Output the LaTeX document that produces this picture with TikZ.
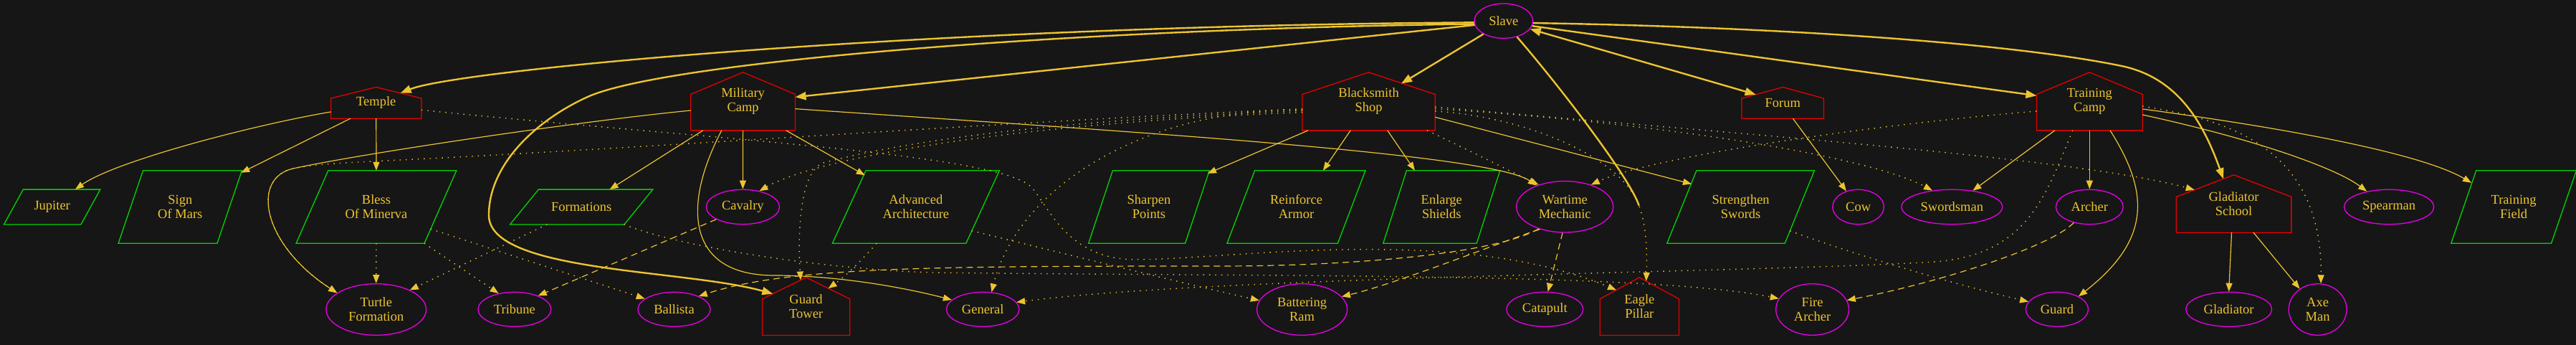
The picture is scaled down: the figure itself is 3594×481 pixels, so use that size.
\documentclass[tikz,border=0pt]{standalone}
\usepackage{fontspec}
\setmainfont{Liberation Serif}
\usetikzlibrary{shapes.geometric}
\usetikzlibrary{arrows.meta,calc}

\definecolor{bgdark}{RGB}{22,22,22}
\definecolor{goldtext}{RGB}{236,196,48}
\definecolor{bldred}{RGB}{228,0,0}
\definecolor{techgreen}{RGB}{0,214,0}
\definecolor{unitpink}{RGB}{232,0,232}

\begin{document}
\begin{tikzpicture}[x=1pt, y=-1pt, font=\fontsize{18.5}{20}\selectfont,
    unit/.style={ellipse, draw=unitpink, line width=1.3pt, text=goldtext, align=center, inner sep=0pt},
    building/.style={rectangle, inner sep=0pt, text=goldtext, align=center},
    tech/.style={rectangle, inner sep=0pt, text=goldtext, align=center},
    bldline/.style={draw=bldred, line width=1.3pt},
    techline/.style={draw=techgreen, line width=1.3pt},
    slaveline/.style={draw=goldtext, line width=2.4pt},
    slavepath/.style={slaveline, >={Triangle[length=15pt, width=11pt]}, ->},
    builds/.style={draw=goldtext, line width=1.2pt, >={Triangle[length=12pt, width=9pt]}, ->},
    needs/.style={builds, line width=1.4pt, dash pattern=on 1.4pt off 7pt},
    upgrades/.style={builds, dash pattern=on 9pt off 6pt}]

        \useasboundingbox (0,0) rectangle (3594,481);
        \fill[bgdark] (0,0) rectangle (3594,481);

        % Slave
        \node (slave) at (2097.8,29.2) [unit, minimum width=81.6pt, minimum height=48.4pt] {Slave};

        % Buildings
        \node (temple) at (524.8,143.35) [building, minimum width=125.9pt, minimum height=43.3pt] {Temple};
        \node (milcamp) at (1036.6,141.35) [building, minimum width=145.4pt, minimum height=80.7pt] {Military\\Camp};
        \node (smithy) at (1909.6,141.35) [building, minimum width=184.8pt, minimum height=80.7pt] {Blacksmith\\Shop};
        \node (forum) at (2487.3,143.35) [building, minimum width=114.1pt, minimum height=43.3pt] {Forum};
        \node (trcamp) at (2915.3,141.35) [building, minimum width=147.3pt, minimum height=80.7pt] {Training\\Camp};
        \node (glschool) at (3116.5,284) [building, minimum width=160.3pt, minimum height=80pt] {Gladiator\\School};
        \node (gtower) at (1124.6,427.15) [building, minimum width=121.7pt, minimum height=80.3pt] {Guard\\Tower};
        \node (eagle) at (2287.3,427.15) [building, minimum width=109.8pt, minimum height=80.3pt] {Eagle\\Pillar};

        \foreach \bn/\roof in {temple/15.6, milcamp/30.7, smithy/30.7, forum/15.6, trcamp/30.7, glschool/30.7, gtower/30, eagle/30}
            \draw[bldline] (\bn.south west) -- (\bn.south east) -- ([yshift=-\roof pt]\bn.north east) -- (\bn.north) -- ([yshift=-\roof pt]\bn.north west) -- cycle;

        % Techs
        \node (jupiter) at (72.7,288.5) [tech, minimum width=107.1pt, minimum height=48.4pt] {Jupiter};
        \node (mars) at (251.3,288.5) [tech, minimum width=137.5pt, minimum height=101pt] {Sign\\Of Mars};
        \node (minerva) at (525,288.5) [tech, minimum width=178.5pt, minimum height=101pt] {Bless\\Of Minerva};
        \node (formations) at (811.2,288.5) [tech, minimum width=159pt, minimum height=48.4pt] {Formations};
        \node (advarch) at (1277.9,288.5) [tech, minimum width=186pt, minimum height=101pt] {Advanced\\Architecture};
        \node (sharpen) at (1603,288.5) [tech, minimum width=134.5pt, minimum height=101pt] {Sharpen\\Points};
        \node (reinforce) at (1808.5,288.5) [tech, minimum width=154pt, minimum height=101pt] {Reinforce\\Armor};
        \node (enlarge) at (2011.3,288.5) [tech, minimum width=130pt, minimum height=101pt] {Enlarge\\Shields};
        \node (strengthen) at (2428.6,288.5) [tech, minimum width=164.1pt, minimum height=101pt] {Strengthen\\Swords};
        \node (trfield) at (3507.1,288.5) [tech, minimum width=139.4pt, minimum height=101pt] {Training\\Field};

        \foreach \tn in {jupiter, mars, minerva, formations, advarch, sharpen, reinforce, enlarge, strengthen, trfield}
            \draw[techline] let \p1=(\tn.south west), \p2=(\tn.north east), \n1={(\x2-\x1)/8} in
                (\x1-\n1,\y1) -- (\x2-\n1,\y1) -- (\x2+\n1,\y2) -- (\x1+\n1,\y2) -- cycle;

        % Units
        \node (cavalry) at (1036.4,288.5) [unit, minimum width=102.2pt, minimum height=48.4pt] {Cavalry};
        \node (wartime) at (2183.2,288.3) [unit, minimum width=135pt, minimum height=71.4pt] {Wartime\\Mechanic};
        \node (cow) at (2592.6,288.5) [unit, minimum width=71.6pt, minimum height=48.4pt] {Cow};
        \node (swordsman) at (2723.3,288.5) [unit, minimum width=140.8pt, minimum height=48.4pt] {Swordsman};
        \node (archer) at (2915.3,288.5) [unit, minimum width=93.8pt, minimum height=48.4pt] {Archer};
        \node (spearman) at (3333.1,288.5) [unit, minimum width=125.2pt, minimum height=48.4pt] {Spearman};
        \node (turtle) at (524.8,431.5) [unit, minimum width=139.6pt, minimum height=71.6pt] {Turtle\\Formation};
        \node (tribune) at (717.9,431.3) [unit, minimum width=101.8pt, minimum height=48pt] {Tribune};
        \node (ballista) at (940.5,431.3) [unit, minimum width=101pt, minimum height=48pt] {Ballista};
        \node (general) at (1371.2,431.3) [unit, minimum width=101.4pt, minimum height=48pt] {General};
        \node (battram) at (1816.6,431.5) [unit, minimum width=126pt, minimum height=71.6pt] {Battering\\Ram};
        \node (catapult) at (2155.3,431.3) [unit, minimum width=106.8pt, minimum height=48pt] {Catapult};
        \node (firearcher) at (2528.6,431.5) [unit, minimum width=101.8pt, minimum height=71.6pt] {Fire\\Archer};
        \node (guard) at (2869.9,431.3) [unit, minimum width=87.2pt, minimum height=48pt] {Guard};
        \node (gladiator) at (3109.6,431.3) [unit, minimum width=119.8pt, minimum height=48pt] {Gladiator};
        \node (axeman) at (3233.6,431.5) [unit, minimum width=80.8pt, minimum height=71.6pt] {Axe\\Man};

        \coordinate (eaglejoin) at (2286.7,286.7);

        % Arrows from Slave
        \draw[slavepath] (slave.183) .. controls (1300,36) and (640,97) .. ([xshift=33.9pt,yshift=-8.3pt]temple.north);
        \draw[slavepath] (slave.186) .. controls (1500,40) and (929,86) .. (820,135) .. controls (747,168) and (682,230) .. (682,300) .. controls (682,380) and (953,375) .. ([xshift=-46.3pt,yshift=-22.8pt]gtower.north);
        \draw[slavepath] (slave.188) -- ([yshift=6pt]milcamp.east);
        \draw[slavepath] (slave.213) -- ([xshift=45.4pt,yshift=-15.7pt]smithy.north);
        \draw[slaveline] (slave.310) .. controls (2180,125) and (2275,250) .. (eaglejoin);
        \draw[slavepath, <->] (slave.343) -- ([xshift=-37.6pt,yshift=-10.3pt]forum.north);
        \draw[slavepath] (slave.350) -- ([yshift=8pt]trcamp.west);
        \draw[slavepath] (slave.356) .. controls (2500,38) and (2813,61.5) .. (2960,92) .. controls (3040,108.6) and (3075,174) .. ([xshift=-14.5pt,yshift=-5.6pt]glschool.north);

        % Built in buildings
        \draw[builds] ([yshift=-12.6pt]temple.west) .. controls (350,175) and (160,225) .. ([xshift=32.3pt]jupiter.north);
        \draw[builds] ([xshift=-35.8pt]temple.south) -- ([xshift=85pt,yshift=-3pt]mars.north);
        \draw[builds] (temple.south) -- (minerva.north);
        \draw[builds] ([xshift=-55.9pt]milcamp.south) -- ([xshift=39.4pt]formations.north);
        \draw[builds] (milcamp.south) -- (cavalry.north);
        \draw[builds] ([xshift=60.1pt]milcamp.south) -- ([xshift=-71.2pt,yshift=-6.5pt]advarch.north);
        \draw[builds] ([xshift=-29.8pt]milcamp.south) .. controls (950,290) and (960,384) .. (1080,384) .. controls (1160,384) and (1250,398) .. (general.163);
        \draw[builds] ([yshift=-12.65pt]milcamp.west) .. controls (800,170) and (500,215) .. (409,235) .. controls (350,248) and (365,340) .. (turtle.157);
        \draw[builds] ([yshift=-10.35pt]milcamp.east) .. controls (1600,185) and (2080,215) .. (wartime.143);
        \draw[builds] ([xshift=-84.6pt]smithy.south) -- ([xshift=82pt,yshift=-4pt]sharpen.north);
        \draw[builds] ([xshift=-25.4pt]smithy.south) -- ([xshift=37.4pt]reinforce.north);
        \draw[builds] ([xshift=26.2pt]smithy.south) -- ([xshift=-37.3pt]enlarge.north);
        \draw[builds] ([yshift=-21.95pt]smithy.east) -- ([xshift=-68.6pt,yshift=-18.7pt]strengthen.north);
        \draw[builds] ([xshift=14.1pt]forum.south) -- (cow.127);
        \draw[builds] ([xshift=-48.5pt]trcamp.south) -- (swordsman.38);
        \draw[builds] (trcamp.south) -- (archer.north);
        \draw[builds] ([xshift=28.7pt]trcamp.south) .. controls (3000,270) and (3000,335) .. (guard.31);
        \draw[builds] ([yshift=-18.65pt]trcamp.east) .. controls (3150,195) and (3260,235) .. (spearman.145);
        \draw[builds] ([yshift=-10.65pt]trcamp.east) .. controls (3200,180) and (3380,215) .. ([xshift=-59.1pt,yshift=-17pt]trfield.north);
        \draw[builds] ([xshift=-3pt]glschool.south) -- (gladiator.north);
        \draw[builds] ([xshift=27.5pt]glschool.south) -- (axeman.131);

        % Requirements (dotted)
        \draw[needs] (minerva.south) -- (turtle.north);
        \draw[needs] ([xshift=66.9pt]minerva.south) -- (tribune.135);
        \draw[needs] ([xshift=75.8pt,yshift=-30.8pt]minerva.center) -- (ballista.160);
        \draw[needs] ([xshift=-47.9pt]formations.south) -- (turtle.30);
        \draw[needs] ([xshift=59.3pt]formations.south) .. controls (950,345) and (1150,375) .. (1300,380) .. controls (1800,386) and (2300,380) .. (firearcher.162);
        \draw[needs] ([yshift=-10.35pt]smithy.west) .. controls (1400,170) and (1000,200) .. (600,221) .. controls (500,226) and (440,228) .. (409,235) .. controls (350,248) and (365,340) .. (turtle.157);
        \draw[needs] ([yshift=-15.35pt]smithy.west) .. controls (1450,170) and (1150,215) .. (cavalry.44);
        \draw[needs] ([yshift=-13pt]smithy.west) .. controls (1450,168) and (1250,200) .. (1150,226.7) .. controls (1115,236) and (1113,330) .. ([xshift=-7.6pt,yshift=-3.7pt]gtower.north);
        \draw[needs] ([yshift=-12pt]smithy.west) .. controls (1600,150) and (1420,260) .. (general.63);
        \draw[needs] ([xshift=-54.9pt]advarch.south) .. controls (1205,360) and (1180,385) .. ([xshift=31pt,yshift=-15.3pt]gtower.north);
        \draw[needs] ([xshift=77.7pt,yshift=-33.2pt]advarch.center) .. controls (1450,345) and (1650,395) .. (battram.168);
        \draw[needs] ([yshift=-10pt]temple.east) .. controls (1000,195) and (1400,215) .. (1440,262) .. controls (1464,290) and (1490,360) .. (1580,361.7) .. controls (1700,364) and (2030,310) .. ([xshift=-32.3pt,yshift=-17.6pt]eagle.north);
        \draw[needs] ([xshift=81.4pt]smithy.south) .. controls (2040,205) and (2110,240) .. (wartime.140);
        \draw[needs] ([yshift=-13.65pt]trcamp.west) .. controls (2600,175) and (2300,220) .. (wartime.40);
        \draw[needs] ([yshift=-10.35pt]smithy.east) .. controls (2300,170) and (2600,215) .. (swordsman.140);
        \draw[needs] ([yshift=-7.65pt]smithy.east) .. controls (2400,185) and (2900,220) .. ([xshift=-54.8pt,yshift=-21pt]glschool.north);
        \draw[needs] ([yshift=-13.65pt]smithy.east) .. controls (2120,162) and (2260,215) .. (eaglejoin) .. controls (2298,316) and (2298,360) .. ([xshift=9.4pt,yshift=-5.1pt]eagle.north);
        \draw[needs] ([xshift=-23.6pt]trcamp.south) .. controls (2855,270) and (2830,355) .. (2700,365) .. controls (2450,380) and (1700,385) .. (general.12);
        \draw[needs] ([yshift=-6.65pt]trcamp.east) .. controls (3100,166) and (3240,200) .. (axeman.83);
        \draw[needs] ([xshift=-13.5pt,yshift=17.3pt]strengthen.south east) .. controls (2560,345) and (2700,390) .. (guard.165);

        % Upgrades (dashed)
        \draw[upgrades] (cavalry.205) -- (tribune.30);
        \draw[upgrades] (wartime.220) .. controls (2090,352) and (1900,371) .. (1700,371) .. controls (1300,371) and (1100,372) .. (ballista.28);
        \draw[upgrades] (wartime.222) .. controls (2100,335) and (1950,395) .. (battram.18);
        \draw[upgrades] (wartime.265) -- (catapult.80);
        \draw[upgrades] (archer.225) .. controls (2860,345) and (2700,395) .. (firearcher.15);

    \end{tikzpicture}
\end{document}
